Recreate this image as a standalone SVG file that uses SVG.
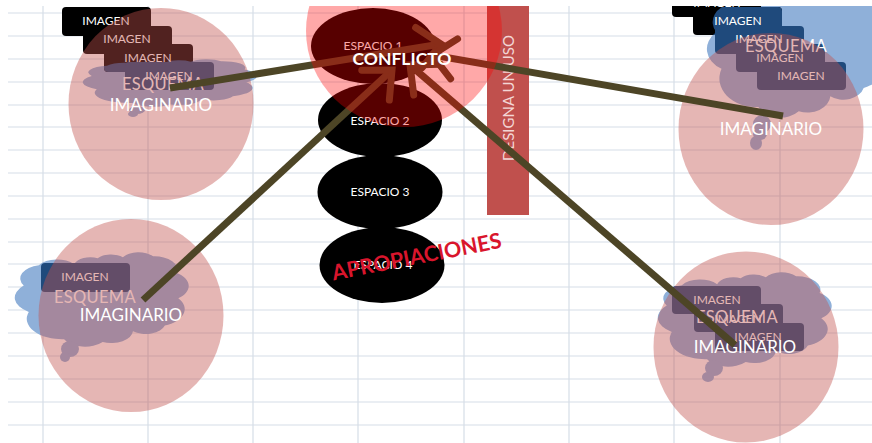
<svg xmlns="http://www.w3.org/2000/svg" width="872" height="443" viewBox="0 0 872 443">
<style>
text{font-family:"Lato","Open Sans","Liberation Sans",sans-serif;text-anchor:middle}
.grid line{stroke:#d6dee7;stroke-width:1.2}
.cloud{fill:#8fb0d9}
.tail{fill:#8fb0d9}
.pink{fill:#c0504d;opacity:.42}
.blk{fill:#000}
.blu{fill:#1f4a7c}
.img{fill:#fff;font-size:12px}
.esq{fill:#fff;font-size:16.5px;letter-spacing:.3px}
.ima{fill:#fff;font-size:17px}
.esp{fill:#fff;font-size:12px}
.con{fill:none;stroke:#4d4526;stroke-width:7}
</style>
<defs>
<path id="cl" d="M6,62A17,17 0 0 1 3,35A14,14 0 0 1 12,14A13,13 0 0 1 33,13A10,10 0 0 1 47,7A10,10 0 0 1 62,6A11,11 0 0 1 80,5A13.5,13.5 0 0 1 94,22A16,16 0 0 1 95,48A18,18 0 0 1 87,76A12,12 0 0 1 68,82A13,13 0 0 1 50,93A14,14 0 0 1 27,90A21,21 0 0 1 6,62Z"/>
<marker id="arr" markerUnits="strokeWidth" markerWidth="10" markerHeight="10" viewBox="-5 -5 10 10" refX="0" refY="0" orient="auto" overflow="visible">
<path d="M-3.2,-2.9L0,0L-3.2,2.9" fill="none" stroke="#4d4526" stroke-width="1" stroke-linecap="round"/>
</marker>
<clipPath id="top"><rect x="0" y="6" width="872" height="437"/></clipPath>
<clipPath id="cTL"><use href="#cl" transform="translate(86.7 58.75) scale(1.68 .492)"/></clipPath>
<clipPath id="cTR"><use href="#cl" transform="translate(711 -15.7) scale(1.755 1.364)"/></clipPath>
</defs>
<g class="grid" id="grid">
<line x1="8" x2="872" y1="13" y2="13"/><line x1="8" x2="872" y1="36" y2="36"/><line x1="8" x2="872" y1="59" y2="59"/><line x1="8" x2="872" y1="82" y2="82"/><line x1="8" x2="872" y1="105" y2="105"/><line x1="8" x2="872" y1="127" y2="127"/><line x1="8" x2="872" y1="150" y2="150"/><line x1="8" x2="872" y1="173" y2="173"/><line x1="8" x2="872" y1="196" y2="196"/><line x1="8" x2="872" y1="219" y2="219"/><line x1="8" x2="872" y1="242" y2="242"/><line x1="8" x2="872" y1="264" y2="264"/><line x1="8" x2="872" y1="287" y2="287"/><line x1="8" x2="872" y1="310" y2="310"/><line x1="8" x2="872" y1="333" y2="333"/><line x1="8" x2="872" y1="356" y2="356"/><line x1="8" x2="872" y1="379" y2="379"/><line x1="8" x2="872" y1="402" y2="402"/><line x1="8" x2="872" y1="425" y2="425"/>
<line x1="43" x2="43" y1="6" y2="443"/><line x1="148" x2="148" y1="6" y2="443"/><line x1="253" x2="253" y1="6" y2="443"/><line x1="358" x2="358" y1="6" y2="443"/><line x1="464" x2="464" y1="6" y2="443"/><line x1="569" x2="569" y1="6" y2="443"/><line x1="674" x2="674" y1="6" y2="443"/><line x1="780" x2="780" y1="6" y2="443"/>
</g>
<g clip-path="url(#top)">
<g id="nodo-superior-izquierdo">
<use href="#cl" class="cloud" transform="translate(86.7 58.75) scale(1.68 .492)"/>
<ellipse class="tail" cx="137" cy="110" rx="8" ry="4"/><ellipse class="tail" cx="133" cy="114" rx="5" ry="3"/>
<rect class="blk" x="62" y="7" width="89" height="29" rx="4"/><rect class="blk" x="83" y="26" width="89" height="28" rx="4"/><rect class="blk" x="104" y="44" width="89" height="28" rx="4"/>
<g clip-path="url(#cTL)"><rect class="blu" x="104" y="44" width="89" height="28" rx="4"/></g>
<rect class="blu" x="125" y="62" width="89" height="28" rx="4"/>
<text class="img" x="106" y="25">IMAGEN</text><text class="img" x="127" y="43">IMAGEN</text><text class="img" x="148" y="62">IMAGEN</text><text class="img" x="169" y="80">IMAGEN</text>
<text class="esq" x="163" y="90">ESQUEMA</text>
<ellipse class="pink" cx="161" cy="104" rx="92.5" ry="96"/>
<text class="ima" x="161" y="111">IMAGINARIO</text>
</g>
<g id="nodo-superior-derecho">
<use href="#cl" class="cloud" transform="translate(711 -15.7) scale(1.755 1.364)"/>
<ellipse class="tail" cx="762" cy="124" rx="9" ry="9"/><ellipse class="tail" cx="756" cy="143" rx="6" ry="7"/><ellipse class="tail" cx="760" cy="134" rx="7" ry="6"/>
<rect class="blk" x="672" y="-11" width="89" height="28" rx="4"/><rect class="blk" x="693" y="7" width="89" height="28" rx="4"/>
<g clip-path="url(#cTR)"><rect class="blu" x="693" y="7" width="89" height="28" rx="4"/></g>
<rect class="blu" x="715" y="26" width="89" height="28" rx="4"/><rect class="blu" x="736" y="44" width="89" height="28" rx="4"/><rect class="blu" x="757" y="62" width="89" height="28" rx="4"/>
<text class="img" x="717" y="7">IMAGEN</text><text class="img" x="738" y="25">IMAGEN</text><text class="img" x="759" y="43">IMAGEN</text><text class="img" x="780" y="62">IMAGEN</text><text class="img" x="801" y="80">IMAGEN</text>
<text class="esq" x="786" y="52">ESQUEMA</text>
<ellipse class="pink" cx="771" cy="129" rx="92.5" ry="96"/>
<text class="ima" x="771" y="135">IMAGINARIO</text>
</g>
<g id="nodo-inferior-izquierdo">
<use href="#cl" class="cloud" transform="translate(18.7 251.5) scale(1.68 .974)"/>
<ellipse class="tail" cx="70" cy="349" rx="9" ry="8"/><ellipse class="tail" cx="65" cy="357" rx="5" ry="5"/>
<rect class="blu" x="41" y="263" width="89" height="29" rx="4"/>
<text class="img" x="85" y="281">IMAGEN</text>
<text class="esq" x="95" y="303">ESQUEMA</text>
<ellipse class="pink" cx="131" cy="315.5" rx="92.5" ry="96.5"/>
<text class="ima" x="131" y="321">IMAGINARIO</text>
</g>
<g id="nodo-inferior-derecho">
<use href="#cl" class="cloud" transform="translate(661.7 271.5) scale(1.68 .974)"/>
<ellipse class="tail" cx="714" cy="368" rx="9" ry="8"/><ellipse class="tail" cx="708" cy="377" rx="6" ry="5"/>
<rect class="blu" x="672" y="286" width="89" height="28" rx="4"/><rect class="blu" x="694" y="304" width="89" height="28" rx="4"/><rect class="blu" x="715" y="323" width="89" height="28" rx="4"/>
<text class="img" x="717" y="304">IMAGEN</text><text class="img" x="738" y="323">IMAGEN</text><text class="img" x="758" y="341">IMAGEN</text>
<text class="esq" x="737" y="323">ESQUEMA</text>
<ellipse class="pink" cx="746" cy="347" rx="92.5" ry="95.5"/>
<text class="ima" x="745" y="353">IMAGINARIO</text>
</g>
<g id="espacio-1"><ellipse cx="373" cy="46" rx="62" ry="38"/><text class="esp" x="373" y="50">ESPACIO 1</text></g>
<g id="espacio-2"><ellipse cx="380" cy="120" rx="62" ry="37"/><text class="esp" x="380" y="125">ESPACIO 2</text></g>
<g id="espacio-3"><ellipse cx="380" cy="192" rx="62.5" ry="37"/><text class="esp" x="380" y="196">ESPACIO 3</text></g>
<g id="espacio-4"><ellipse cx="382" cy="265" rx="62.5" ry="38"/><text class="esp" x="383" y="269">ESPACIO 4</text></g>
<g id="designa"><rect x="487" y="6" width="42" height="209" fill="#c0504d"/><text transform="translate(514 98) rotate(-90)" fill="#f3d6d5" style="font-size:15px">DESIGNA UN USO</text></g>
<g id="conectores">
<line class="con" x1="170" y1="88" x2="441" y2="44" marker-end="url(#arr)"/>
<line class="con" x1="783" y1="116" x2="432" y2="55" marker-end="url(#arr)"/>
<line class="con" x1="143" y1="300" x2="392" y2="70" marker-end="url(#arr)"/>
<line class="con" x1="735" y1="345" x2="410" y2="65" marker-end="url(#arr)"/>
</g>
<g id="conflicto">
<ellipse cx="404" cy="31" rx="98" ry="96" fill="#ff0000" opacity=".34"/>
<text x="402" y="65" fill="#fff" style="font-size:17.5px;font-weight:700">CONFLICTO</text>
</g>
<g id="apropiaciones"><text transform="translate(418 264) rotate(-11)" fill="#d9152c" style="font-size:21.5px;font-weight:700">APROPIACIONES</text></g>
</g>
</svg>
